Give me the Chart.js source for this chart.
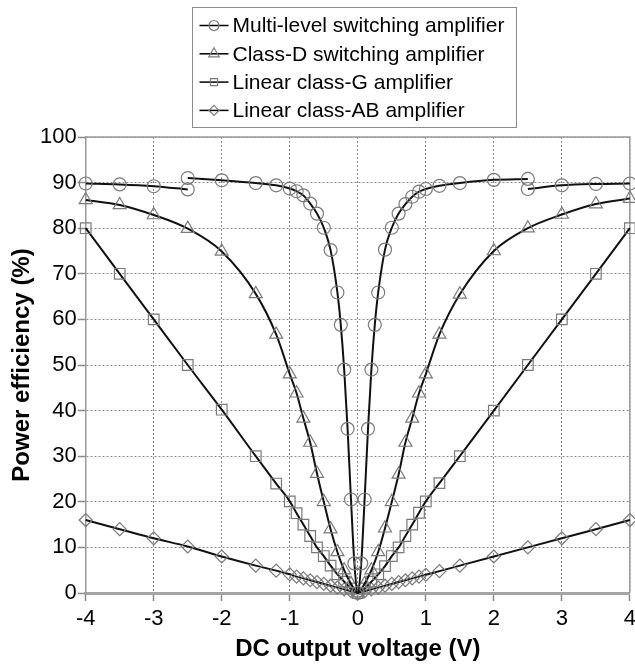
<!DOCTYPE html>
<html>
<head>
<meta charset="utf-8">
<script src="https://cdn.jsdelivr.net/npm/chart.js@4.4.0/dist/chart.umd.min.js"></script>
<style>
html, body { margin: 0; padding: 0; background: #fff; overflow: hidden; }
#wrap { width: 643px; height: 664px; }
</style>
</head>
<body>
<div id="wrap"><canvas id="myChart"></canvas></div>
<script>
// series names
const legendLabels = [
  'Multi-level switching amplifier',
  'Class-D switching amplifier',
  'Linear class-G amplifier',
  'Linear class-AB amplifier'
];

// multi-level amplifier has its own voltage points (null = break in the line at +-2.5 V)
const voltsML = [-4, -3.5, -3, -2.5, -2.5, -2.5, -2, -1.5, -1.2, -1, -0.9, -0.8, -0.7, -0.6, -0.5, -0.4, -0.3, -0.25, -0.2, -0.15, -0.1, -0.05, 0,
  0.05, 0.1, 0.15, 0.2, 0.25, 0.3, 0.4, 0.5, 0.6, 0.7, 0.8, 0.9, 1, 1.2, 1.5, 2, 2.5, 2.5, 2.5, 3, 3.5, 4];
const effML = [89.8, 89.6, 89.2, 88.5, null, 91, 90.5, 89.9, 89.4, 88.7, 88.1, 87.2, 85.4, 83.2, 80.1, 75.2, 65.9, 58.8, 49, 36, 20.5, 6.5, 0,
  6.5, 20.5, 36, 49, 58.8, 65.9, 75.3, 80.1, 83.2, 85.3, 86.9, 88, 88.6, 89.3, 89.9, 90.6, 90.8, null, 88.6, 89.4, 89.7, 89.8];

// the other three share one set of voltage points
const volts = [-4, -3.5, -3, -2.5, -2, -1.5, -1.2, -1, -0.9, -0.8, -0.7, -0.6, -0.5, -0.4, -0.3, -0.2, -0.1, 0,
  0.1, 0.2, 0.3, 0.4, 0.5, 0.6, 0.7, 0.8, 0.9, 1, 1.2, 1.5, 2, 2.5, 3, 3.5, 4];
const effClassD = [86.2, 85.1, 82.9, 79.9, 74.9, 65.6, 56.7, 48, 43.8, 38.3, 33, 26.2, 20, 14, 9, 5, 2, 0,
  2, 5, 9, 14.2, 20, 26, 33, 38.3, 43.8, 48, 56.7, 65.5, 75, 80, 83, 85.3, 86.5];
const effClassG = [80, 70, 60, 50, 40.2, 30, 24, 20.1, 17.5, 15, 12.5, 10, 8.1, 6, 4.1, 2.5, 1, 0,
  1, 2.5, 4.1, 5.9, 8.1, 10, 12.5, 15, 17.6, 20.1, 24.1, 30, 40, 50, 60, 70, 80];
const effClassAB = [16, 14, 12, 10.2, 8, 6, 4.9, 4.1, 3.6, 3.2, 2.8, 2.4, 2, 1.6, 1.2, 0.8, 0.4, 0,
  0.4, 0.8, 1.2, 1.6, 2, 2.4, 2.8, 3.2, 3.6, 4, 4.8, 6, 8, 10, 12, 14, 16];

function toPoints(xs, ys) {
  let pts = [];
  for (var i = 0; i < xs.length; i++) {
    pts.push({x: xs[i], y: ys[i]});
  }
  return pts;
}

const markerColor = '#7a7a7a';

function drawMarker(ctx, style, x, y, r) {
  ctx.beginPath();
  if (style === 'circle') {
    ctx.arc(x, y, r, 0, Math.PI * 2);
  } else if (style === 'triangle') {
    ctx.moveTo(x, y - r);
    ctx.lineTo(x + r * 0.866, y + r / 2);
    ctx.lineTo(x - r * 0.866, y + r / 2);
    ctx.closePath();
  } else if (style === 'rect') {
    ctx.rect(x - r * 0.707, y - r * 0.707, r * 1.414, r * 1.414);
  } else {
    ctx.moveTo(x - r, y);
    ctx.lineTo(x, y - r);
    ctx.lineTo(x + r, y);
    ctx.lineTo(x, y + r);
    ctx.closePath();
  }
  ctx.strokeStyle = markerColor;
  ctx.lineWidth = 1.2;
  ctx.stroke();
}

// plot frame (top + right edges)
const frame = {
  id: 'frame',
  beforeDatasetsDraw(chart) {
    const a = chart.chartArea;
    const ctx = chart.ctx;
    ctx.save();
    ctx.strokeStyle = '#9a9a9a';
    ctx.lineWidth = 1.5;
    ctx.beginPath();
    ctx.moveTo(a.left, a.top);
    ctx.lineTo(a.right, a.top);
    ctx.lineTo(a.right, a.bottom);
    ctx.stroke();
    ctx.restore();
  }
};

// boxed legend, one entry per row, line through marker
const boxLegend = {
  id: 'boxLegend',
  afterDraw(chart) {
    const ctx = chart.ctx;
    const a = chart.chartArea;
    const w = 324, h = 120;
    const left = Math.round((a.left + a.right) / 2 - w / 2) - 3.5;
    const top = 7.5;
    ctx.save();
    ctx.fillStyle = '#fff';
    ctx.fillRect(left, top, w, h);
    ctx.strokeStyle = '#8c8c8c';
    ctx.lineWidth = 1;
    ctx.strokeRect(left, top, w, h);
    ctx.font = '21px "Liberation Sans", Arial, sans-serif';
    ctx.textBaseline = 'middle';
    chart.data.datasets.forEach(function (ds, i) {
      const y = top + 18 + i * 28.3;
      ctx.strokeStyle = '#000';
      ctx.lineWidth = 1.5;
      ctx.beginPath();
      ctx.moveTo(left + 7, y);
      ctx.lineTo(left + 36, y);
      ctx.stroke();
      drawMarker(ctx, ds.pointStyle, left + 21.5, y, ds.pointStyle === 'triangle' ? 6 : 5);
      ctx.fillStyle = '#000';
      ctx.fillText(ds.label, left + 40, y + 1);
    });
    ctx.restore();
  }
};

const styles = ['circle', 'triangle', 'rect', 'rectRot'];
const radii = [6.5, 7.5, 7.5, 6.5];
const sets = [toPoints(voltsML, effML), toPoints(volts, effClassD), toPoints(volts, effClassG), toPoints(volts, effClassAB)];

const datasets = [];
for (var i = 0; i < sets.length; i++) {
  datasets.push({
    label: legendLabels[i],
    data: sets[i],
    borderColor: '#111',
    borderWidth: 2,
    pointStyle: styles[i],
    pointRadius: radii[i],
    pointBorderColor: markerColor,
    pointBorderWidth: 1.2,
    pointBackgroundColor: 'rgba(0,0,0,0)',
    cubicInterpolationMode: 'monotone',
    spanGaps: false,
    clip: false
  });
}

const tickFont = {family: '"Liberation Sans", Arial, sans-serif', size: 22, lineHeight: 1};
const titleFont = {family: '"Liberation Sans", Arial, sans-serif', size: 24, weight: 'bold', lineHeight: 1};

const config = {
  type: 'line',
  data: {datasets: datasets},
  options: {
    responsive: true,
    maintainAspectRatio: false,
    animation: false,
    layout: {padding: {top: 137, left: 10, right: 0, bottom: 3}},
    plugins: {
      legend: {display: false},
      tooltip: {enabled: false}
    },
    scales: {
      x: {
        type: 'linear',
        min: -4,
        max: 4,
        ticks: {stepSize: 1, color: '#000', font: tickFont, padding: 7, maxRotation: 0},
        grid: {color: '#8a8a8a', lineWidth: 1, tickLength: 8, tickColor: '#8a8a8a', tickBorderDash: [], tickWidth: 1.5},
        border: {color: '#a5a5a5', width: 3, dash: [2, 2]},
        title: {display: true, text: 'DC output voltage (V)', color: '#000', font: titleFont, padding: {top: 0, bottom: 0}}
      },
      y: {
        min: 0,
        max: 100,
        ticks: {stepSize: 10, color: '#000', font: tickFont, padding: 1},
        grid: {color: '#8a8a8a', lineWidth: 1, tickLength: 8, tickColor: '#8a8a8a', tickBorderDash: [], tickWidth: 1.5},
        border: {color: '#9a9a9a', width: 1.5, dash: [2, 2]},
        title: {display: true, text: 'Power efficiency (%)', color: '#000', font: titleFont, padding: {top: 0, bottom: 5}}
      }
    }
  },
  plugins: [frame, boxLegend]
};

const myChart = new Chart(document.getElementById('myChart'), config);
</script>
</body>
</html>
